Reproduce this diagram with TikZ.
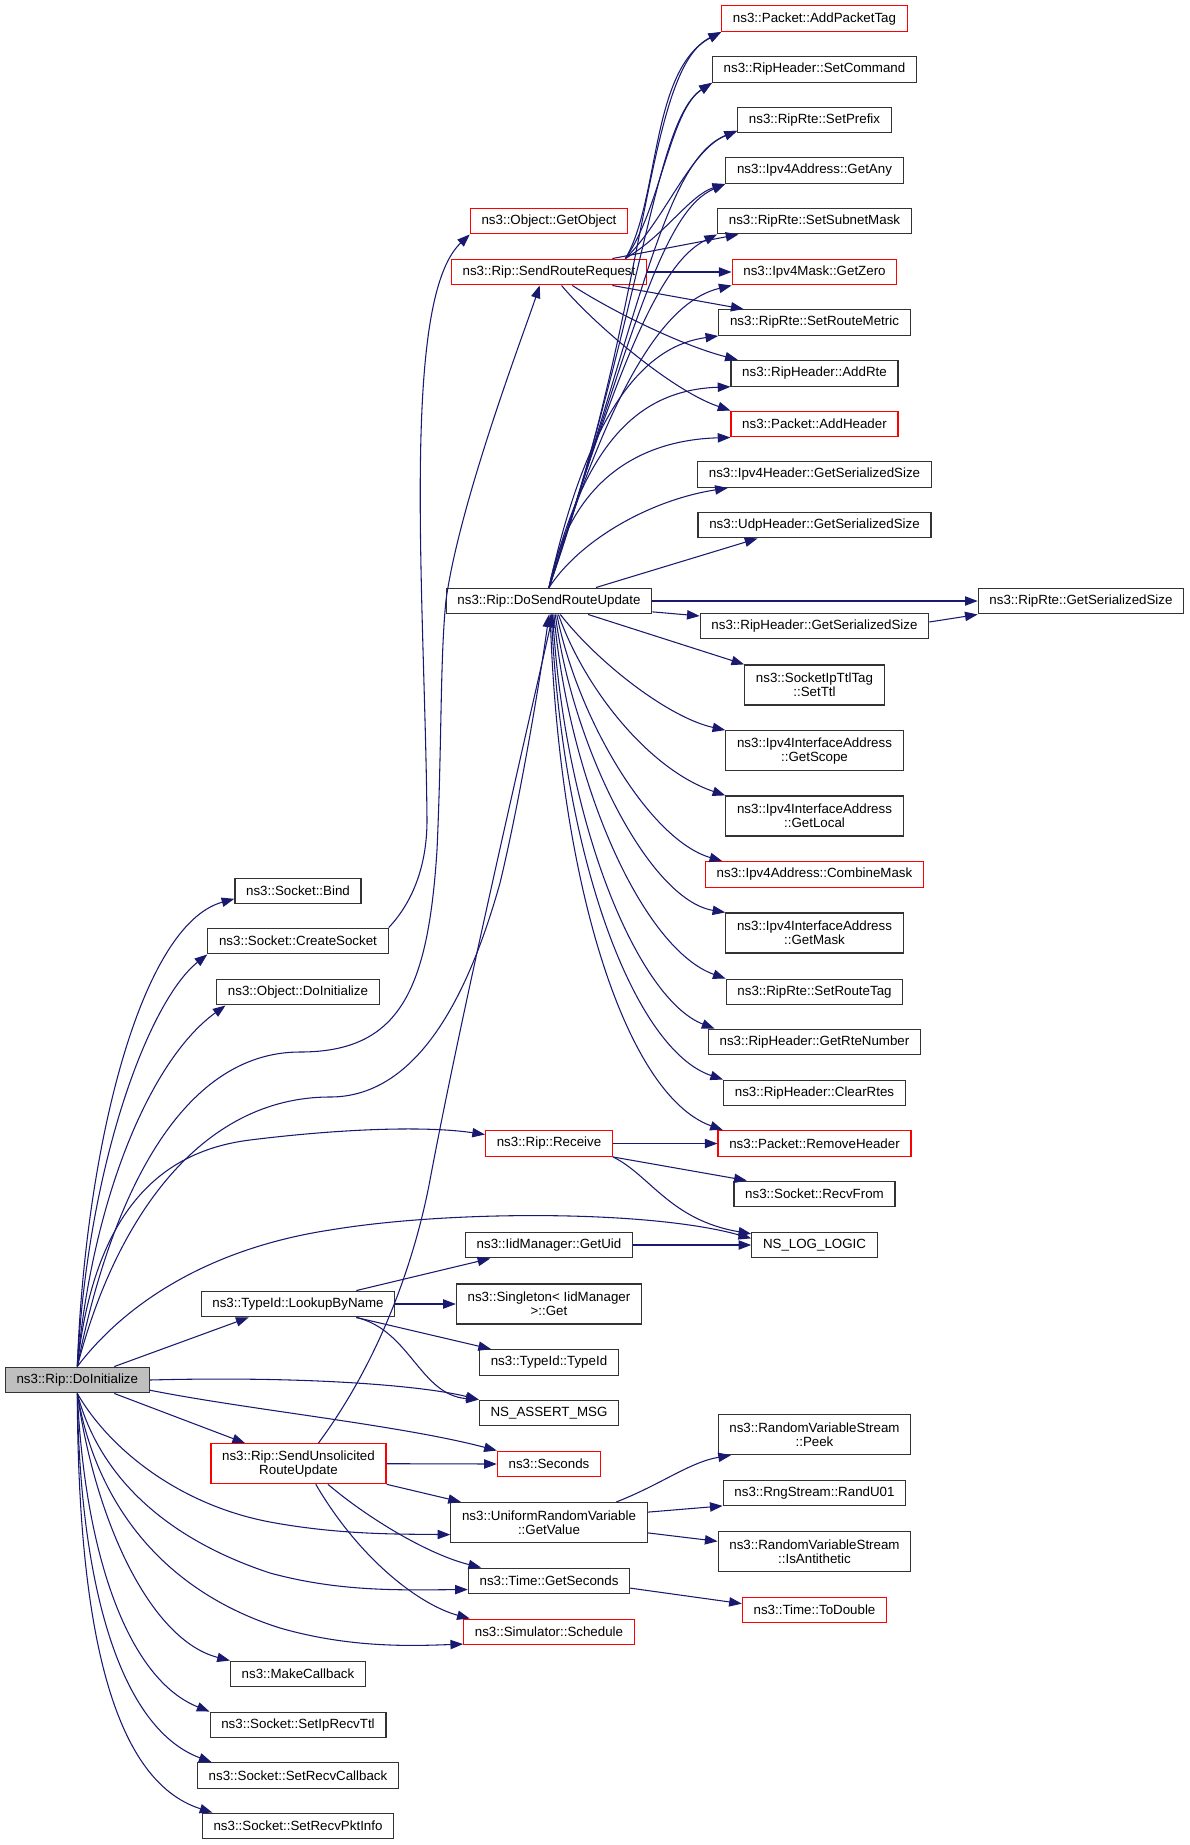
\documentclass[tikz,border=0pt]{standalone}
\usepackage{fontspec}
\setmainfont{Liberation Sans}
\usetikzlibrary{arrows.meta}
\definecolor{midblue}{RGB}{25,25,112}
\definecolor{nodegray}{RGB}{191,191,191}

\begin{document}
\begin{tikzpicture}[x=0.75pt,y=-0.75pt,
		fn/.style={draw=black!80,line width=0.9pt,fill=white,font=\fontsize{10}{10.7}\selectfont,inner xsep=8.4pt,inner ysep=0pt,minimum height=19.3pt,align=center},
		fnred/.style={fn,draw=red},
		two/.style={minimum height=30pt},
		call/.style={draw=midblue,line width=0.8pt,-{Triangle[length=9.5pt,width=7pt]}}]
		\useasboundingbox (0,0) rectangle (1189,1845);
		\node[fn,fill=nodegray] (d) at (77.3,1380) {ns3::Rip::DoInitialize};
		\node[fn] (bind) at (298,891) {ns3::Socket::Bind};
		\node[fn] (cs) at (298,941) {ns3::Socket::CreateSocket};
		\node[fn] (odi) at (298,992) {ns3::Object::DoInitialize};
		\node[fn] (lbn) at (298,1304) {ns3::TypeId::LookupByName};
		\node[fnred,two] (suru) at (298.5,1463.7) {ns3::Rip::SendUnsolicited\\RouteUpdate};
		\node[fn] (mcb) at (298,1674) {ns3::MakeCallback};
		\node[fn] (sirt) at (298,1725) {ns3::Socket::SetIpRecvTtl};
		\node[fn] (src) at (298,1775.6) {ns3::Socket::SetRecvCallback};
		\node[fn] (srpi) at (298,1826) {ns3::Socket::SetRecvPktInfo};
		\node[fnred] (gobj) at (549,221) {ns3::Object::GetObject};
		\node[fnred] (srr) at (549,272) {ns3::Rip::SendRouteRequest};
		\node[fn] (dsru) at (549,601) {ns3::Rip::DoSendRouteUpdate};
		\node[fnred] (recv) at (549,1143.5) {ns3::Rip::Receive};
		\node[fn] (guid) at (549,1245) {ns3::IidManager::GetUid};
		\node[fn,two] (sing) at (549,1304) {ns3::Singleton< IidManager\\>::Get};
		\node[fn] (tid) at (549,1362.5) {ns3::TypeId::TypeId};
		\node[fn] (nam) at (549,1413) {NS\_ASSERT\_MSG};
		\node[fnred] (sec) at (549,1464) {ns3::Seconds};
		\node[fn,two] (urv) at (549,1522.5) {ns3::UniformRandomVariable\\::GetValue};
		\node[fn] (gsec) at (549,1581) {ns3::Time::GetSeconds};
		\node[fnred] (sched) at (549,1632) {ns3::Simulator::Schedule};
		\node[fnred] (apt) at (814.5,18.6) {ns3::Packet::AddPacketTag};
		\node[fn] (scmd) at (814.5,69.4) {ns3::RipHeader::SetCommand};
		\node[fn] (spre) at (814.5,120) {ns3::RipRte::SetPrefix};
		\node[fn] (gany) at (814.5,170.5) {ns3::Ipv4Address::GetAny};
		\node[fn] (ssm) at (814.5,221) {ns3::RipRte::SetSubnetMask};
		\node[fnred] (gzero) at (814.5,272) {ns3::Ipv4Mask::GetZero};
		\node[fn] (srm) at (814.5,322.5) {ns3::RipRte::SetRouteMetric};
		\node[fn] (arte) at (814.5,373.3) {ns3::RipHeader::AddRte};
		\node[fnred] (ahdr) at (814.5,424) {ns3::Packet::AddHeader};
		\node[fn] (ip4h) at (814.5,474.5) {ns3::Ipv4Header::GetSerializedSize};
		\node[fn] (udp) at (814.5,525) {ns3::UdpHeader::GetSerializedSize};
		\node[fn] (rhgs) at (814.5,626) {ns3::RipHeader::GetSerializedSize};
		\node[fn,two] (ttl) at (814.5,685) {ns3::SocketIpTtlTag\\::SetTtl};
		\node[fn,two] (gscope) at (814.5,750.7) {ns3::Ipv4InterfaceAddress\\::GetScope};
		\node[fn,two] (glocal) at (814.5,816) {ns3::Ipv4InterfaceAddress\\::GetLocal};
		\node[fnred] (cmask) at (814.5,874.5) {ns3::Ipv4Address::CombineMask};
		\node[fn,two] (gmask) at (814.5,933) {ns3::Ipv4InterfaceAddress\\::GetMask};
		\node[fn] (srtag) at (814.5,992) {ns3::RipRte::SetRouteTag};
		\node[fn] (grn) at (814.5,1042) {ns3::RipHeader::GetRteNumber};
		\node[fn] (clr) at (814.5,1093) {ns3::RipHeader::ClearRtes};
		\node[fnred] (rmh) at (814.5,1143.5) {ns3::Packet::RemoveHeader};
		\node[fn] (rfrom) at (814.5,1194) {ns3::Socket::RecvFrom};
		\node[fn] (nll) at (814.5,1245) {NS\_LOG\_LOGIC};
		\node[fn,two] (peek) at (814.5,1434.6) {ns3::RandomVariableStream\\::Peek};
		\node[fn] (rand) at (814.5,1493) {ns3::RngStream::RandU01};
		\node[fn,two] (anti) at (814.5,1551.5) {ns3::RandomVariableStream\\::IsAntithetic};
		\node[fnred] (todbl) at (814.5,1610) {ns3::Time::ToDouble};
		\node[fn] (rrgs) at (1081,601) {ns3::RipRte::GetSerializedSize};
		
		\draw[call] (d.north) .. controls (85,1150) and (140,925) .. (bind.187);
		\draw[call] (d.north) .. controls (88,1160) and (150,1000) .. (cs.south west);
		\draw[call] (d.north) .. controls (92,1200) and (150,1060) .. ([xshift=7pt]odi.south west);
		\draw[call] (d.north) .. controls (110,1200) and (180,1052) .. (300,1052) .. controls (400,1052) and (428,990) .. (437,850) .. controls (442,740) and (440,660) .. (446,600) .. controls (460,500) and (525,330) .. ([xshift=-7pt]srr.south);
		\draw[call] (d.north) .. controls (115,1220) and (200,1097) .. (330,1097) .. controls (420,1097) and (470,990) .. (500,883) .. controls (520,800) and (540,680) .. (dsru.south);
		\draw[call] (d.north) .. controls (95,1200) and (170,1150) .. (250,1140) .. controls (330,1130) and (420,1125) .. (recv.172);
		\draw[call] (d.north) .. controls (120,1310) and (200,1250) .. (330,1230) .. controls (450,1210) and (650,1210) .. (nll.174);
		\draw[call] (d.20) -- ([xshift=36pt]lbn.south west);
		\draw[call] (d.east) .. controls (300,1376) and (420,1385) .. (nam.north west);
		\draw[call] (d.-8) .. controls (250,1410) and (400,1425) .. (sec.north west);
		\draw[call] (d.-20) -- ([xshift=26pt]suru.north west);
		\draw[call] (d.south) .. controls (110,1450) and (180,1505) .. (270,1522) .. controls (340,1535) and (400,1534) .. (urv.187);
		\draw[call] (d.south) .. controls (100,1480) and (170,1540) .. (270,1573) .. controls (340,1592) and (400,1590) .. (gsec.186);
		\draw[call] (d.south) .. controls (95,1500) and (160,1590) .. (280,1628) .. controls (350,1648) and (410,1646) .. (sched.188);
		\draw[call] (d.south) .. controls (95,1520) and (150,1640) .. (mcb.north west);
		\draw[call] (d.south) .. controls (85,1560) and (130,1680) .. (sirt.north west);
		\draw[call] (d.south) .. controls (80,1600) and (125,1730) .. ([xshift=11pt]src.north west);
		\draw[call] (d.south) .. controls (78,1620) and (110,1780) .. ([xshift=8pt]srpi.north west);
		
		\draw[call] (cs.north east) .. controls (410,905) and (427,870) .. (427,820) .. controls (425,600) and (400,300) .. (gobj.south west);
		
		\draw[call] (lbn.13) -- ([xshift=19pt]guid.south west);
		\draw[call] (lbn.east) -- (sing.west);
		\draw[call] (lbn.-13) -- ([xshift=9pt]tid.north west);
		\draw[call] (lbn.-13) .. controls (410,1330) and (420,1395) .. (nam.north west);
		
		\draw[call] (suru.46) .. controls (380,1360) and (415,1260) .. (430,1180) .. controls (460,1020) and (520,760) .. ([xshift=3pt]dsru.south);
		\draw[call] (suru.east) -- (sec.west);
		\draw[call] (suru.south east) -- ([xshift=8pt]urv.north west);
		\draw[call] (suru.-35) .. controls (370,1520) and (430,1555) .. ([xshift=10pt]gsec.north west);
		\draw[call] (suru.-50) .. controls (360,1560) and (420,1605) .. ([xshift=5pt]sched.north west);
		
		\draw[call] (urv.17) .. controls (660,1485) and (690,1462) .. ([xshift=10pt]peek.south west);
		\draw[call] (urv.6) -- (rand.188);
		\draw[call] (urv.-6) -- (anti.174);
		\draw[call] (gsec.-5) -- (todbl.175);
		
		\draw[call] (recv.east) -- (rmh.west);
		\draw[call] (recv.south east) -- ([xshift=10pt]rfrom.north west);
		\draw[call] (recv.south east) .. controls (650,1175) and (670,1220) .. (nll.170);
		\draw[call] (guid.east) -- (nll.west);
		
		\draw[call] (srr.10) .. controls (660,200) and (650,70) .. (apt.south west);
		\draw[call] (srr.10) .. controls (660,210) and (670,110) .. (scmd.south west);
		\draw[call] (srr.10) .. controls (665,220) and (690,150) .. (spre.188);
		\draw[call] (srr.10) .. controls (665,235) and (690,195) .. (gany.south west);
		\draw[call] (srr.12) -- ([xshift=16pt]ssm.south west);
		\draw[call] (srr.east) -- (gzero.west);
		\draw[call] (srr.-12) -- ([xshift=19pt]srm.north west);
		\draw[call] (srr.-30) .. controls (610,310) and (680,345) .. ([xshift=5.5pt]arte.north west);
		\draw[call] (srr.-47) .. controls (590,320) and (670,390) .. (ahdr.north west);
		
		\draw[call] (dsru.north) .. controls (650,300) and (645,70) .. (apt.south west);
		\draw[call] (dsru.north) .. controls (645,300) and (655,120) .. (scmd.south west);
		\draw[call] (dsru.north) .. controls (640,310) and (665,160) .. (spre.188);
		\draw[call] (dsru.north) .. controls (635,320) and (665,210) .. (gany.south west);
		\draw[call] (dsru.north) .. controls (625,340) and (665,260) .. (ssm.south west);
		\draw[call] (dsru.north) .. controls (615,370) and (670,300) .. (gzero.south west);
		\draw[call] (dsru.north) .. controls (590,400) and (650,345) .. (srm.south west);
		\draw[call] (dsru.north) .. controls (585,440) and (640,390) .. (arte.south west);
		\draw[call] (dsru.north) .. controls (570,480) and (640,440) .. (ahdr.south west);
		\draw[call] (dsru.north) .. controls (580,540) and (650,500) .. ([xshift=23pt]ip4h.south west);
		\draw[call] (dsru.16) -- ([xshift=45pt]udp.south west);
		\draw[call] (dsru.east) -- (rrgs.west);
		\draw[call] (dsru.-6) -- (rhgs.175);
		\draw[call] (rhgs.2) -- (rrgs.south west);
		\draw[call] (dsru.-19) -- (ttl.north west);
		\draw[call] (dsru.-50) .. controls (600,665) and (670,718) .. (gscope.north west);
		\draw[call] (dsru.-55) .. controls (585,690) and (650,770) .. (glocal.north west);
		\draw[call] (dsru.-60) .. controls (578,720) and (650,840) .. ([xshift=13pt]cmask.north west);
		\draw[call] (dsru.-65) .. controls (573,750) and (650,900) .. (gmask.north west);
		\draw[call] (dsru.-70) .. controls (570,790) and (645,950) .. (srtag.north west);
		\draw[call] (dsru.-75) .. controls (565,830) and (640,1000) .. ([xshift=5pt]grn.north west);
		\draw[call] (dsru.-80) .. controls (562,860) and (635,1050) .. (clr.north west);
		\draw[call] (dsru.-85) .. controls (558,880) and (625,1095) .. ([xshift=4pt]rmh.north west);
\end{tikzpicture}
\end{document}
